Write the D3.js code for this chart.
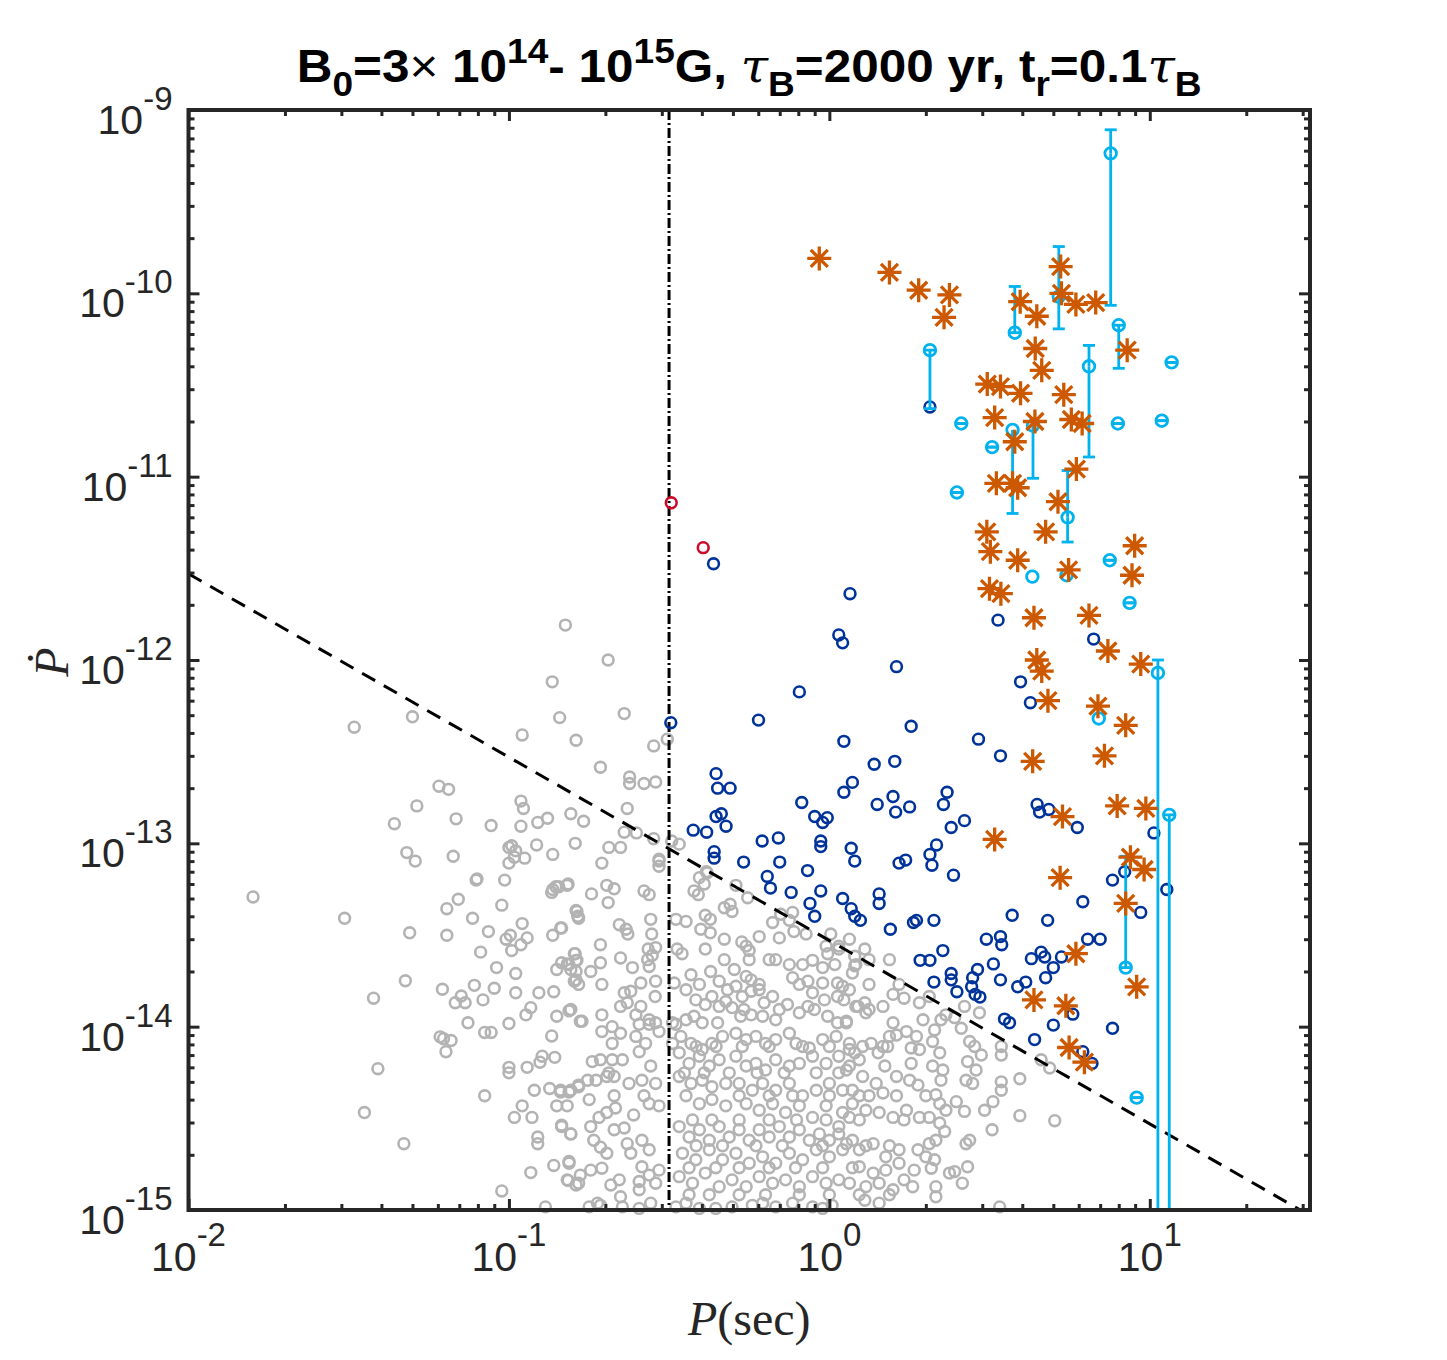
<!DOCTYPE html>
<html><head><meta charset="utf-8">
<script src="https://cdn.jsdelivr.net/npm/d3@7/dist/d3.min.js"></script>
<style>body{margin:0;background:#fff}svg{display:block}</style>
</head><body>
<svg id="chart" width="1447" height="1360"></svg>
<script>
// ---------- axis settings ----------
const xDomain = [0.01, 31.62];
const yDomain = [1e-15, 1e-9];
const xMajor = [0.01, 0.1, 1, 10];
const xMajorExp = ["-2", "-1", "0", "1"];
const yMajor = [1e-15, 1e-14, 1e-13, 1e-12, 1e-11, 1e-10, 1e-9];
const yMajorExp = ["-15", "-14", "-13", "-12", "-11", "-10", "-9"];

// reference lines
const deathK = 2.95e-14;          // Pdot = deathK / P  (dashed)
const deathP = [0.01, 29.5];
const vLineP = 0.316;             // dash-dot vertical line

// ---------- data: [P (s), Pdot] ----------
const gray = [
[0.150,1.55e-12],[0.1365,7.6e-13],[0.144,4.85e-13],[0.050,4.9e-13],[0.0329,4.3e-13],[0.110,3.9e-13],[0.162,3.65e-13],[0.0605,2.05e-13],[0.0648,1.97e-13],[0.0516,1.6e-13],[0.0439,1.28e-13],[0.0684,1.36e-13],[0.088,1.25e-13],[0.109,1.7e-13],[0.111,1.55e-13],[0.109,1.24e-13],[0.123,1.3e-13],[0.132,1.37e-13],[0.156,1.45e-13],[0.171,1.32e-13],[0.161,1.0e-13],[0.122,9.8e-14],[0.137,8.7e-14],[0.048,8.9e-14],[0.051,8.0e-14],[0.067,8.5e-14],[0.102,9.7e-14],[0.1,9.5e-14],[0.105,9.1e-14],[0.104,8.4e-14],[0.112,8.3e-14],[0.1,7.8e-14],[0.079,6.3e-14],[0.0795,6.4e-14],[0.097,6.3e-14],[0.137,5.6e-14],[0.14,5.8e-14],[0.152,5.9e-14],[0.136,5.4e-14],[0.0159,5.1e-14],[0.0695,4.95e-14],[0.064,4.4e-14],[0.095,4.6e-14],[0.162,4.3e-14],[0.164,4.0e-14],[0.077,3.9e-14],[0.0307,3.9e-14],[0.110,3.65e-14],[0.0863,3.3e-14],[0.101,3.15e-14],[0.098,3.0e-14],[0.114,3.05e-14],[0.109,2.8e-14],[0.102,2.6e-14],[0.145,3.45e-14],[0.137,3.15e-14],[0.049,3.25e-14],[0.064,3.15e-14],[0.0816,2.55e-14],[0.0915,2.1e-14],[0.105,1.95e-14],[0.141,2.05e-14],[0.152,2.2e-14],[0.161,2.5e-14],[0.162,2.3e-14],[0.156,2.05e-14],[0.162,1.8e-14],[0.0475,1.78e-14],[0.062,1.6e-14],[0.078,1.68e-14],[0.090,1.62e-14],[0.105,1.53e-14],[0.124,1.53e-14],[0.138,1.55e-14],[0.0378,1.43e-14],[0.071,1.47e-14],[0.073,1.35e-14],[0.068,1.35e-14],[0.083,1.4e-14],
[0.117,1.27e-14],[0.113,1.16e-14],[0.141,1.14e-14],[0.154,1.22e-14],[0.167,1.07e-14],[0.0745,1.05e-14],[0.1,1.04e-14],[0.084,9.3e-15],[0.088,9.3e-15],[0.061,8.8e-15],[0.0625,8.6e-15],[0.066,8.4e-15],[0.0636,7.3e-15],[0.136,8.9e-15],[0.127,6.9e-15],[0.125,6.4e-15],[0.139,6.8e-15],[0.1,6.0e-15],[0.1,5.6e-15],[0.114,6.0e-15],[0.039,5.9e-15],[0.12,4.5e-15],[0.134,4.6e-15],[0.145,4.4e-15],[0.154,4.4e-15],[0.165,4.8e-15],[0.084,4.2e-15],[0.11,3.7e-15],[0.104,3.2e-15],[0.118,3.2e-15],[0.141,3.7e-15],[0.0354,3.4e-15],[0.146,2.9e-15],[0.156,2.6e-15],[0.123,2.5e-15],[0.123,2.3e-15],[0.047,2.3e-15],[0.154,1.8e-15],[0.138,1.75e-15],[0.117,1.6e-15],[0.153,1.45e-15],[0.162,1.37e-15],[0.095,1.27e-15],[0.13,1.04e-15],
[0.204,1.0e-12],[0.229,5.1e-13],[0.312,3.7e-13],[0.283,3.4e-13],[0.193,2.6e-13],[0.238,2.3e-13],[0.238,2.12e-13],[0.264,2.12e-13],[0.287,2.16e-13],[0.234,1.55e-13],[0.229,1.15e-13],[0.25,1.14e-13],[0.205,9.5e-14],[0.223,9.5e-14],[0.283,1.06e-13],[0.34,9.9e-14],[0.322,1.03e-13],[0.294,8.2e-14],[0.413,7.0e-14],
[0.195,7.8e-14],[0.294,8.0e-14],[0.294,7.5e-14],[0.153,6.0e-14],[0.143,5.8e-14],[0.202,5.9e-14],[0.213,5.65e-14],[0.204,4.75e-14],[0.181,5.3e-14],[0.264,5.5e-14],[0.274,5.25e-14],[0.378,5.5e-14],[0.39,5.25e-14],[0.407,6.0e-14],[0.416,6.9e-14],[0.393,6.5e-14],[0.511,5.9e-14],[0.556,5.05e-14],[0.163,4.25e-14],[0.165,3.9e-14],[0.146,3.45e-14],[0.221,3.6e-14],[0.232,3.4e-14],[0.235,3.2e-14],[0.277,3.85e-14],[0.279,3.2e-14],[0.332,3.85e-14],[0.357,3.75e-14],[0.41,4.05e-14],[0.425,3.85e-14],[0.397,3.4e-14],[0.425,3.25e-14],[0.47,4.45e-14],[0.49,4.65e-14],[0.497,4.25e-14],[0.665,3.7e-14],[0.705,4.1e-14],[0.75,3.8e-14],[0.768,4.2e-14],[0.775,3.3e-14],[0.846,3.2e-14],[0.604,3.1e-14],[0.47,3.0e-14],[0.533,2.9e-14],[0.55,2.75e-14],[0.562,2.6e-14],[0.193,2.8e-14],[0.272,2.65e-14],[0.287,2.7e-14],[0.28,2.45e-14],[0.335,2.65e-14],[0.347,2.5e-14],[0.41,2.65e-14],[0.698,3.05e-14],[1.01,3.2e-14],[1.07,2.65e-14],[0.977,2.75e-14],[0.988,2.5e-14],[1.155,3.0e-14],[1.2,2.15e-14],[0.825,2.18e-14],[0.886,2.3e-14],[0.953,2.1e-14],[1.04,2.18e-14],
[0.16,2.5e-14],[0.163,2.3e-14],[0.154,2.18e-14],[0.162,2.0e-14],[0.16,1.77e-14],[0.165,1.7e-14],[0.146,2.23e-14],[0.18,2.0e-14],[0.193,2.23e-14],[0.195,1.7e-14],[0.223,2.37e-14],[0.243,2.1e-14],[0.271,2.32e-14],[0.274,2.13e-14],[0.258,1.73e-14],[0.287,1.77e-14],[0.286,1.46e-14],[0.229,1.53e-14],[0.24,1.56e-14],[0.234,1.35e-14],[0.223,1.29e-14],[0.258,1.29e-14],[0.249,1.16e-14],[0.156,1.24e-14],[0.169,1.07e-14],[0.195,1.16e-14],[0.21,1.0e-14],[0.274,1.09e-14],[0.287,1.05e-14],[0.332,1.03e-14],[0.357,1.09e-14],[0.328,1.73e-14],[0.37,1.92e-14],[0.357,1.59e-14],[0.426,2.0e-14],[0.453,1.77e-14],[0.481,1.59e-14],[0.383,1.4e-14],[0.41,1.32e-14],[0.43,1.46e-14],[0.453,1.29e-14],[0.475,1.37e-14],[0.511,1.66e-14],[0.535,1.46e-14],[0.57,1.56e-14],[0.604,1.59e-14],[0.626,1.35e-14],[0.665,1.46e-14],[0.649,2.32e-14],[0.68,2.32e-14],[0.75,2.18e-14],[0.768,1.85e-14],[0.505,2.05e-14],[0.55,1.88e-14],[0.57,1.8e-14],[0.857,1.77e-14],[0.953,1.73e-14],[1.06,1.73e-14],[0.886,1.53e-14],[0.965,1.4e-14],[1.06,1.46e-14],[1.155,1.59e-14],[1.21,1.29e-14],[0.74,1.32e-14],[0.806,1.19e-14],[0.857,1.29e-14],[0.497,1.27e-14],[0.529,1.14e-14],[0.57,1.16e-14],[0.378,1.14e-14],[0.401,1.05e-14],[0.448,1.05e-14],[0.619,1.14e-14],[0.68,1.09e-14],[0.988,1.14e-14],[1.06,1.05e-14],[1.13,1.07e-14],
[0.195,9.4e-15],[0.223,9.2e-15],[0.21,8.1e-15],[0.255,1.03e-14],[0.274,1.03e-14],[0.249,8.85e-15],[0.267,8.1e-15],[0.294,9.4e-15],[0.324,1.05e-14],[0.324,8.1e-15],[0.344,8.85e-15],[0.37,8.1e-15],[0.401,7.5e-15],[0.43,8.1e-15],[0.464,8.85e-15],[0.511,9.2e-15],[0.55,8.5e-15],[0.59,8.85e-15],[0.632,8.1e-15],[0.68,8.5e-15],[0.75,9.2e-15],[0.787,8.1e-15],[0.866,7.65e-15],[0.953,8.5e-15],[1.05,8.85e-15],[1.155,8.1e-15],[0.182,6.45e-15],[0.193,6.6e-15],[0.21,6.6e-15],[0.226,6.6e-15],[0.145,4.5e-15],[0.156,4.5e-15],[0.165,4.7e-15],[0.176,5.1e-15],[0.187,5.1e-15],[0.202,5.35e-15],[0.255,7.3e-15],[0.237,4.9e-15],[0.26,5.1e-15],[0.277,6.1e-15],[0.287,4.9e-15],[0.264,4.2e-15],[0.274,3.8e-15],[0.294,3.7e-15],[0.205,5.6e-15],[0.213,5.35e-15],[0.34,7.2e-15],[0.365,6.3e-15],[0.393,6.9e-15],[0.422,6.1e-15],[0.453,6.6e-15],[0.34,5.35e-15],[0.37,4.9e-15],[0.401,5.1e-15],[0.43,4.7e-15],[0.475,4.9e-15],[0.511,6.9e-15],[0.55,6.1e-15],[0.59,6.3e-15],[0.632,5.8e-15],[0.68,6.6e-15],[0.75,6.1e-15],[0.806,6.3e-15],[0.886,6.9e-15],[0.977,6.3e-15],[1.07,6.9e-15],[1.155,6.1e-15],[1.2,7.2e-15],[0.523,4.9e-15],[0.575,4.5e-15],[0.619,4.9e-15],[0.68,4.5e-15],[0.75,4.9e-15],[0.825,4.2e-15],[0.91,4.5e-15],[1.0,4.9e-15],[1.1,4.5e-15],[0.357,4.2e-15],[0.393,3.8e-15],[0.43,4.0e-15],[0.475,3.7e-15],[0.55,3.8e-15],[0.604,3.5e-15],[0.665,3.8e-15],[0.73,3.4e-15],[0.806,3.7e-15],[0.886,3.2e-15],[0.977,3.7e-15],[1.1,3.4e-15],[0.146,2.85e-15],[0.156,2.6e-15],[0.152,3.7e-15],[0.18,2.85e-15],[0.191,3.2e-15],[0.202,3.4e-15],[0.215,3.6e-15],[0.213,2.74e-15],[0.229,2.8e-15],[0.184,2.4e-15],[0.193,2.2e-15],[0.202,2.04e-15],[0.234,2.3e-15],[0.24,2.04e-15],[0.26,2.4e-15],[0.274,2.13e-15],[0.26,1.72e-15],[0.274,1.55e-15],[0.255,1.43e-15],[0.287,1.4e-15],[0.294,1.65e-15],[0.154,1.84e-15],[0.167,1.55e-15],[0.152,1.46e-15],[0.165,1.4e-15],[0.18,1.65e-15],[0.195,1.69e-15],[0.221,1.46e-15],[0.223,1.18e-15],[0.189,1.09e-15],[0.34,2.85e-15],[0.365,2.5e-15],[0.393,2.74e-15],[0.422,2.4e-15],[0.453,2.85e-15],[0.487,2.5e-15],[0.523,2.74e-15],[0.562,2.4e-15],[0.604,2.74e-15],[0.649,2.5e-15],[0.698,2.85e-15],[0.75,2.5e-15],[0.806,2.74e-15],[0.866,2.4e-15],[0.931,2.6e-15],[1.0,2.4e-15],[1.07,2.6e-15],[1.18,2.4e-15],[0.348,2.04e-15],[0.383,1.88e-15],[0.422,2.13e-15],[0.464,1.88e-15],[0.511,2.04e-15],[0.562,1.8e-15],[0.619,1.95e-15],[0.68,1.8e-15],[0.75,2.04e-15],[0.825,1.88e-15],[0.91,2.13e-15],[1.0,1.95e-15],[1.1,2.13e-15],[0.34,1.52e-15],[0.374,1.4e-15],[0.41,1.59e-15],[0.453,1.34e-15],[0.497,1.46e-15],[0.55,1.34e-15],[0.604,1.52e-15],[0.665,1.4e-15],[0.73,1.46e-15],[0.806,1.34e-15],[0.886,1.52e-15],[0.977,1.4e-15],[1.07,1.46e-15],[0.178,1.04e-15],[0.193,1.06e-15],[0.226,1.04e-15],[0.255,1.02e-15],[0.277,1.09e-15],[0.332,1.04e-15],[0.357,1.09e-15],[0.393,1.02e-15],[0.442,1.02e-15],[0.497,1.04e-15],[0.575,1.06e-15],[0.619,1.09e-15],[0.68,1.04e-15],[0.768,1.09e-15],[0.886,1.04e-15],[0.953,1.02e-15],[1.02,1.06e-15],
[1.29,2.65e-14],[1.2,2.42e-14],[1.21,2.18e-14],[1.18,1.96e-14],[1.07,2.75e-14],[1.58,1.5e-14],[1.71,1.43e-14],[1.47,1.29e-14],[1.91,1.35e-14],[2.05,1.46e-14],[1.1,1.66e-14],[1.11,1.4e-14],[1.23,1.29e-14],[1.29,1.35e-14],[1.3,1.19e-14],[1.13,1.05e-14],[1.96,1.09e-14],[2.13,9.6e-15],[2.23,1.09e-14],[2.31,1.16e-14],[2.1,8.3e-15],[2.46,1.12e-14],[2.64,1.29e-14],[2.94,1.19e-14],[2.58,9.8e-15],[2.74,8.3e-15],[2.84,7.8e-15],[2.98,7.0e-15],[3.44,7.8e-15],[3.44,7.0e-15],[4.58,6.6e-15],[4.87,5.95e-15],[3.93,5.2e-15],[2.7,6.45e-15],[2.87,5.8e-15],[2.67,5.1e-15],[2.8,4.9e-15],[3.44,5.0e-15],[3.44,4.5e-15],[3.24,3.9e-15],[3.05,3.5e-15],[3.22,2.74e-15],[3.93,3.27e-15],[5.05,3.07e-15],[2.21,7.2e-15],[1.91,7.5e-15],[1.8,6.3e-15],[2.1,6.1e-15],[2.26,5.8e-15],[2.23,5.1e-15],[1.54,8.85e-15],[1.62,9.0e-15],[1.35,8.1e-15],[1.52,7.8e-15],[1.42,7.2e-15],[1.49,6.1e-15],[1.62,5.35e-15],[1.78,5.1e-15],[1.89,4.8e-15],[2.0,4.2e-15],[2.15,4.25e-15],[2.21,3.8e-15],[2.31,3.5e-15],[2.49,3.9e-15],[2.64,3.45e-15],[2.05,3.2e-15],[2.21,2.98e-15],[2.29,2.68e-15],[2.15,2.4e-15],[2.67,2.3e-15],[2.74,2.4e-15],[2.37,1.59e-15],[2.46,1.62e-15],[2.7,1.72e-15],[2.6,1.4e-15],[2.05,2.3e-15],[1.89,2.13e-15],[2.0,1.95e-15],[2.13,1.88e-15],[2.08,1.69e-15],[1.84,1.65e-15],[1.71,1.46e-15],[1.82,1.34e-15],[2.15,1.34e-15],[2.15,1.18e-15],[3.4,1.04e-15],[1.18,3.8e-15],[1.3,3.5e-15],[1.43,3.4e-15],[1.58,3.2e-15],[1.74,3.5e-15],[1.91,3.2e-15],[1.13,2.3e-15],[1.24,2.13e-15],[1.37,2.3e-15],[1.5,1.95e-15],[1.65,2.13e-15],[1.24,1.72e-15],[1.37,1.59e-15],[1.5,1.65e-15],[1.65,1.8e-15],[1.155,1.4e-15],[1.3,1.34e-15],[1.43,1.4e-15],[1.58,1.29e-15],[1.29,1.13e-15],[1.43,1.09e-15],[1.155,7.5e-15],[1.24,6.6e-15],[1.13,5.8e-15],[1.27,5.35e-15],[1.4,4.9e-15],[1.18,4.5e-15],[1.33,4.2e-15],[1.47,4.35e-15],[1.62,4.2e-15],[1.155,3.2e-15],[1.07,2.85e-15],[1.58,1.05e-14],[1.74,9.4e-15],[1.87,8.85e-15],[1.8,7.65e-15],
[0.384,7.8e-15],[0.443,7.8e-15],[0.535,7.8e-15],[0.649,7.8e-15],[0.825,7.8e-15],[1.0,7.8e-15],[1.27,7.8e-15],[1.47,7.8e-15],
[0.353,5.6e-15],[0.407,5.6e-15],[0.487,5.6e-15],[0.595,5.6e-15],[0.723,5.6e-15],[0.91,5.6e-15],[1.07,5.6e-15],
[0.523,4.2e-15],[0.649,4.2e-15],[0.768,4.2e-15],[1.0,4.2e-15],[1.24,4.2e-15],
[0.374,3.1e-15],[0.43,3.1e-15],[0.523,3.1e-15],[0.649,3.1e-15],[0.79,3.1e-15],[0.977,3.1e-15],[1.24,3.1e-15],[1.71,3.1e-15],
[0.384,2.24e-15],[0.464,2.24e-15],[0.59,2.24e-15],[0.713,2.24e-15],[0.953,2.24e-15],[1.3,2.24e-15],[1.54,2.24e-15],
[0.365,1.7e-15],[0.442,1.7e-15],[0.523,1.7e-15],[0.649,1.7e-15],[0.784,1.7e-15],[0.953,1.7e-15],[1.18,1.7e-15],
[0.365,1.21e-15],[0.422,1.21e-15],[0.523,1.21e-15],[0.632,1.21e-15],[0.806,1.21e-15],[1.0,1.21e-15],[1.24,1.21e-15],[1.54,1.21e-15],
[0.541,1.24e-14],[0.698,1.24e-14],[0.898,1.24e-14],[1.33,1.24e-14],
[0.393,1.7e-14],[0.604,1.7e-14],[0.806,1.7e-14],[1.33,1.7e-14],[1.65,1.7e-14],
[0.47,2.32e-14],[0.562,2.32e-14],[1.33,2.32e-14],[1.54,2.32e-14],
[0.213,4.2e-15],[0.245,3.3e-15],[0.178,4.0e-15],[0.255,1.29e-15],[0.208,1.37e-15]
];

const blue = [
[0.435,3.35e-12],[1.16,2.3e-12],[1.07,1.37e-12],[1.10,1.24e-12],[1.62,9.2e-13],[0.806,6.7e-13],[0.601,4.7e-13],[0.32,4.55e-13],[1.11,3.6e-13],[1.38,2.7e-13],[1.6,2.8e-13],[0.443,2.4e-13],[0.448,2.0e-13],[0.49,2.0e-13],[1.18,2.15e-13],[1.11,1.9e-13],[1.58,1.8e-13],[1.41,1.63e-13],[1.61,1.48e-13],[0.82,1.67e-13],[0.443,1.4e-13],[0.46,1.45e-13],[0.476,1.24e-13],[0.376,1.18e-13],[0.414,1.15e-13],[0.90,1.4e-13],[0.953,1.3e-13],[0.985,1.38e-13],[0.617,1.03e-13],[0.693,1.07e-13],[0.94,1.03e-13],[0.94,9.6e-14],[0.437,9.0e-14],[0.437,8.3e-14],[1.17,9.4e-14],[1.2,8.0e-14],[0.54,7.9e-14],[0.70,7.9e-14],[0.855,7.1e-14],[0.64,6.6e-14],[1.65,7.8e-14],
[3.36,1.65e-12],[6.68,1.3e-12],[3.95,7.6e-13],[4.24,5.85e-13],[1.80,4.35e-13],[2.92,3.7e-13],[3.42,3.0e-13],[2.33,1.9e-13],[2.27,1.63e-13],[1.78,1.58e-13],[2.64,1.33e-13],[2.4,1.22e-13],[2.16,9.8e-14],[2.06,8.7e-14],[2.09,7.6e-14],[1.73,8.1e-14],[2.44,6.7e-14],[4.45,1.63e-13],[4.53,1.48e-13],[4.84,1.53e-13],[5.94,1.22e-13],[10.3,1.14e-13],[8.35,7.0e-14],[7.65,6.3e-14],[2.06,2.4e-11],
[11.3,5.6e-14],[6.18,4.8e-14],[9.37,4.2e-14],[1.43,5.3e-14],[1.43,4.7e-14],[1.17,4.4e-14],[1.2,4.0e-14],[1.25,3.8e-14],[1.55,3.4e-14],[1.83,3.7e-14],[1.87,3.8e-14],[2.12,3.8e-14],[3.72,4.05e-14],[4.8,3.8e-14],[1.92,2.3e-14],[2.06,2.3e-14],[2.26,2.6e-14],[3.09,3.0e-14],[3.42,3.1e-14],[3.45,2.8e-14],[4.27,2.35e-14],[4.58,2.55e-14],[4.7,2.4e-14],[5.3,2.4e-14],[6.4,3.0e-14],[7.0,3.0e-14],[2.12,1.75e-14],[2.4,1.95e-14],[2.4,1.8e-14],[2.5,1.55e-14],[2.9,2.05e-14],[2.8,1.85e-14],[2.78,1.65e-14],[2.85,1.5e-14],[2.95,1.45e-14],[3.25,2.2e-14],[3.42,1.8e-14],[3.87,1.65e-14],[4.1,1.75e-14],[4.73,1.85e-14],[5.0,2.1e-14],[5.75,1.17e-14],[5.0,1.02e-14],[3.52,1.1e-14],[3.65,1.05e-14],[4.37,8.5e-15],[7.65,9.8e-15],[6.18,7.3e-15],[6.6,6.3e-15],[1.1,5.0e-14],
[0.655,5.7e-14],[0.76,5.4e-14],[0.94,5.5e-14],[0.87,4.7e-14],[0.9,4.0e-14]
];

const red = [[0.321,7.2e-12],[0.404,4.1e-12]];

const orange = [
[0.93,1.55e-10],[1.54,1.3e-10],[1.90,1.04e-10],[2.37,9.8e-11],[2.28,7.4e-11],[3.94,9.0e-11],[4.44,7.5e-11],[5.27,1.4e-10],[5.3,1.0e-10],[5.88,8.7e-11],[6.78,8.9e-11],[4.39,5.0e-11],[8.5,4.9e-11],[4.6,3.8e-11],[3.11,3.2e-11],[3.42,3.1e-11],[3.95,2.85e-11],[5.39,2.8e-11],[3.28,2.1e-11],[4.38,2.0e-11],[5.69,2.05e-11],[6.15,1.95e-11],[3.79,1.55e-11],[5.9,1.1e-11],[3.32,9.2e-12],[3.73,9.2e-12],[3.87,8.7e-12],[5.17,7.3e-12],[3.1,5.0e-12],[4.73,5.0e-12],[8.97,4.2e-12],[3.18,3.9e-12],[3.87,3.5e-12],[5.58,3.1e-12],[8.8,2.9e-12],[3.16,2.45e-12],[3.43,2.3e-12],[4.35,1.7e-12],[6.46,1.75e-12],[7.4,1.12e-12],[9.37,9.5e-13],[4.44,1.0e-12],[4.6,8.7e-13],[4.81,6.0e-13],[6.89,5.6e-13],[8.41,4.4e-13],[7.22,3.0e-13],[4.31,2.8e-13],[7.91,1.6e-13],[9.72,1.55e-13],[5.34,1.4e-13],[3.28,1.05e-13],[8.7,8.4e-14],[9.6,7.2e-14],[5.25,6.5e-14],[8.41,4.7e-14],[5.88,2.5e-14],[9.1,1.65e-14],[4.35,1.4e-14],[5.47,1.3e-14],[5.6,7.7e-15],[6.25,6.4e-15]
];

// cyan: [P, Pdot, lower bound (or null), upper bound (or null)]
const cyan = [
[7.55,5.8e-10,8.6e-11,7.8e-10],
[2.06,4.9e-11,2.35e-11,4.9e-11],
[2.58,1.95e-11,1.95e-11,1.95e-11],
[3.22,1.45e-11,1.45e-11,1.45e-11],
[3.79,6.1e-11,6.1e-11,1.09e-10],
[3.73,1.8e-11,6.3e-12,null],
[5.2,9.6e-11,6.4e-11,1.8e-10],
[6.46,4.0e-11,1.28e-11,5.2e-11],
[8.0,6.7e-11,3.9e-11,6.7e-11],
[11.7,4.2e-11,4.2e-11,4.2e-11],
[7.95,1.95e-11,1.95e-11,1.95e-11],
[10.9,2.02e-11,2.02e-11,2.02e-11],
[2.5,8.2e-12,8.2e-12,8.2e-12],
[4.32,1.9e-11,9.8e-12,null],
[5.54,6.0e-12,4.4e-12,1.08e-11],
[4.3,2.85e-12,null,null],
[5.5,2.9e-12,null,null],
[7.5,3.5e-12,3.5e-12,3.5e-12],
[8.65,2.05e-12,2.05e-12,2.05e-12],
[10.6,8.5e-13,1.0e-15,1.0e-12],
[6.93,4.8e-13,null,null],
[11.5,1.43e-13,1.0e-15,1.43e-13],
[8.41,2.1e-14,2.1e-14,8.5e-14],
[9.1,4.1e-15,4.1e-15,4.1e-15]
];

// ---------- drawing ----------
const svg = d3.select("#chart");
const L = 188.5, T = 110, R = 1310, B = 1210;
const x = d3.scaleLog().domain(xDomain).range([L, R]);
const y = d3.scaleLog().domain(yDomain).range([B, T]);
const axisColor = "#262626";

svg.append("rect").attr("width",1447).attr("height",1360).attr("fill","#fff");
svg.append("clipPath").attr("id","clip").append("rect")
  .attr("x",L).attr("y",T).attr("width",R-L).attr("height",B-T);

const plotG = svg.append("g");
const rC = 5.4;

// gray
plotG.append("g").selectAll("circle").data(gray).join("circle")
  .attr("cx",d=>x(d[0])).attr("cy",d=>y(d[1])).attr("r",rC)
  .attr("fill","none").attr("stroke","#b3b3b3").attr("stroke-width",2.6);

// reference lines
const lineG = plotG.append("g").attr("clip-path","url(#clip)");
lineG.append("line")
  .attr("x1",x(deathP[0])).attr("y1",y(deathK/deathP[0]))
  .attr("x2",x(deathP[1])).attr("y2",y(deathK/deathP[1]))
  .attr("stroke","#000").attr("stroke-width",3).attr("stroke-dasharray","15,10");
lineG.append("line")
  .attr("x1",x(vLineP)).attr("x2",x(vLineP)).attr("y1",T).attr("y2",B)
  .attr("stroke","#000").attr("stroke-width",3).attr("stroke-dasharray","10,3,2,3");

// blue
plotG.append("g").selectAll("circle").data(blue).join("circle")
  .attr("cx",d=>x(d[0])).attr("cy",d=>y(d[1])).attr("r",rC)
  .attr("fill","none").attr("stroke","#003399").attr("stroke-width",2.6);
// red
plotG.append("g").selectAll("circle").data(red).join("circle")
  .attr("cx",d=>x(d[0])).attr("cy",d=>y(d[1])).attr("r",rC)
  .attr("fill","none").attr("stroke","#cc0a2a").attr("stroke-width",2.6);

// cyan errorbars
const cyanCol = "#00b2ee";
const eg = plotG.append("g").attr("stroke",cyanCol).attr("stroke-width",2.8).attr("fill","none");
const capW = 6;
cyan.forEach(d=>{
  const cx = x(d[0]), cy = y(d[1]);
  [d[2], d[3]].forEach(b=>{
    if (b === null) return;
    const by = y(b);
    if (Math.abs(by-cy) > 0.5) eg.append("line").attr("x1",cx).attr("x2",cx).attr("y1",cy).attr("y2",by);
    eg.append("line").attr("x1",cx-capW).attr("x2",cx+capW).attr("y1",by).attr("y2",by);
  });
});
eg.selectAll("circle").data(cyan).join("circle")
  .attr("cx",d=>x(d[0])).attr("cy",d=>y(d[1])).attr("r",rC+0.4)
  .attr("stroke-width",2.8);

// orange asterisks
const starPath = "M0,-12V12M-12,0H12M-8.5,-8.5L8.5,8.5M-8.5,8.5L8.5,-8.5";
plotG.append("g").selectAll("path").data(orange).join("path")
  .attr("d",starPath)
  .attr("transform",d=>`translate(${x(d[0])},${y(d[1])})`)
  .attr("fill","none").attr("stroke","#cc5800").attr("stroke-width",3.3);

// ---------- axes ----------
function minorTicks(dom){
  const out=[];
  const e0=Math.floor(Math.log10(dom[0])), e1=Math.ceil(Math.log10(dom[1]));
  for(let e=e0;e<e1;e++) for(let k=2;k<=9;k++){const v=k*Math.pow(10,e); if(v>dom[0]&&v<dom[1]) out.push(v);}
  return out;
}
const xMinor = minorTicks(xDomain), yMinor = minorTicks(yDomain);
function styleAxis(g){ g.select(".domain").remove(); g.selectAll(".tick line").attr("stroke",axisColor).attr("stroke-width",3); g.selectAll(".tick text").remove(); }
const axG = svg.append("g");
[[d3.axisBottom, `translate(0,${B})`, x, xMajor, 11],[d3.axisBottom, `translate(0,${B})`, x, xMinor, 6],
 [d3.axisTop, `translate(0,${T})`, x, xMajor, 11],[d3.axisTop, `translate(0,${T})`, x, xMinor, 6],
 [d3.axisLeft, `translate(${L},0)`, y, yMajor, 11],[d3.axisLeft, `translate(${L},0)`, y, yMinor, 6],
 [d3.axisRight, `translate(${R},0)`, y, yMajor, 11],[d3.axisRight, `translate(${R},0)`, y, yMinor, 6]
].forEach(([fn,tr,sc,vals,len])=>{
  axG.append("g").attr("transform",tr).call(fn(sc).tickValues(vals).tickSize(-len).tickFormat(()=>"")).call(styleAxis);
});
axG.append("rect").attr("x",L).attr("y",T).attr("width",R-L).attr("height",B-T)
  .attr("fill","none").attr("stroke",axisColor).attr("stroke-width",4);

const fontSans = "'Liberation Sans', Arial, Helvetica, sans-serif";
// y tick labels
yMajor.forEach((v,i)=>{
  const t = svg.append("text").attr("text-anchor","end").attr("fill",axisColor)
    .attr("font-family",fontSans).attr("font-size",41)
    .attr("x",L-16).attr("y",y(v)+24);
  t.append("tspan").text("10");
  t.append("tspan").attr("font-size",33).attr("dy",-24).text(yMajorExp[i]);
});
// x tick labels
xMajor.forEach((v,i)=>{
  const t = svg.append("text").attr("text-anchor","middle").attr("fill",axisColor)
    .attr("font-family",fontSans).attr("font-size",41)
    .attr("x",x(v)).attr("y",B+61);
  t.append("tspan").text("10");
  t.append("tspan").attr("font-size",33).attr("dy",-25).text(xMajorExp[i]);
});

// axis labels
const fontSerif = "'Liberation Serif', 'DejaVu Serif', serif";
const xl = svg.append("text").attr("text-anchor","middle").attr("fill",axisColor)
  .attr("font-family",fontSerif).attr("font-size",48).attr("x",(L+R)/2).attr("y",1335);
xl.append("tspan").attr("font-style","italic").text("P");
xl.append("tspan").text("(sec)");
svg.append("text").attr("text-anchor","middle").attr("fill",axisColor)
  .attr("font-family",fontSerif).attr("font-size",48).attr("font-style","italic")
  .attr("transform",`translate(68,662) rotate(-90)`).text("Ṗ");

// title
const tfs = 46;
const title = svg.append("text").attr("fill","#000").attr("font-family",fontSans)
  .attr("font-weight","bold").attr("font-size",tfs).attr("x",0).attr("y",82);
const segs = [
 ["B",0,1,"b"],["0",1,0.75,"b"],["=3",0,1,"b"],["×",0,1,"n"],[" 10",0,1,"b"],["14",-1,0.75,"b"],
 ["- 10",0,1,"b"],["15",-1,0.75,"b"],["G, ",0,1,"b"],["τ",0,1,"i"],["B",1,0.75,"b"],
 ["=2000 yr, t",0,1,"b"],["r",1,0.75,"b"],["=0.1",0,1,"b"],["τ",0,1,"i"],["B",1,0.75,"b"]
];
let cur = 0;
segs.forEach(([txt,lvl,sc,st])=>{
  const target = lvl===1 ? 14 : (lvl===-1 ? -19 : 0);
  const ts = title.append("tspan").attr("dy",target-cur).attr("font-size",tfs*sc).text(txt);
  if(st==="n") ts.attr("font-weight","normal");
  if(st==="i") ts.attr("font-weight","normal").attr("font-style","italic").attr("font-family","'DejaVu Serif', serif");
  cur = target;
});
const bb = title.node().getBBox();
const targetW = 905, cx0 = (L+R)/2;
const s = targetW/bb.width;
title.attr("transform",`translate(${cx0 - s*(bb.x+bb.width/2)},0) scale(${s},1)`);
</script>
</body></html>
